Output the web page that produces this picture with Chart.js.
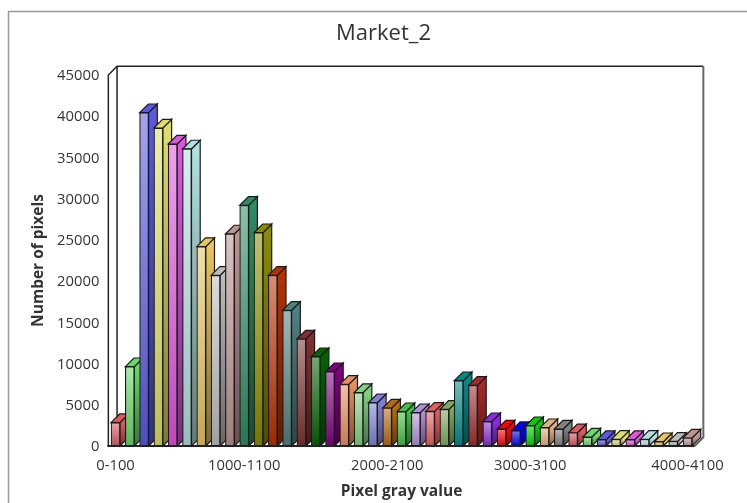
<!DOCTYPE html>
<html>
<head>
<meta charset="utf-8">
<title>Market_2</title>
<script src="https://cdn.jsdelivr.net/npm/chart.js@4/dist/chart.umd.js"></script>
<style>
  html, body { margin: 0; padding: 0; background: #fff; overflow: hidden; }
  canvas { display: block; }
</style>
</head>
<body>
<canvas id="myChart" width="747" height="503"></canvas>
<script>
// only a few of the 41 bins carry a label on the axis
const categories = [
  "0-100", "", "", "", "", "", "", "", "", "1000-1100",
  "", "", "", "", "", "", "", "", "", "2000-2100",
  "", "", "", "", "", "", "", "", "", "3000-3100",
  "", "", "", "", "", "", "", "", "", "", "4000-4100"
];

const pixelCounts = [
  2830, 9620, 40430, 38570, 36630, 36030, 24180, 20700, 25720, 29200,
  25870, 20700, 16460, 12980, 10830, 9010, 7480, 6470, 5250, 4610,
  4160, 4040, 4200, 4450, 7920, 7360, 2950, 2060, 1860, 2460,
  2220, 2060, 1610, 1090, 770, 810, 770, 810, 520, 570, 970
];

// repeats once the bins run past the end of the list
const palette = [
  "#dc5a5f", "#66d966", "#5a5ae0", "#dede66", "#e055e0", "#b0e0e0", "#e6c45e", "#bdbdbd",
  "#bd9494", "#2e8b63", "#8b8b00", "#b83000", "#4f8080", "#803030", "#006400", "#800080",
  "#e69060", "#80d080", "#8080d8", "#b86a10", "#40c040", "#b090d8", "#e06060", "#80a860",
  "#008b8b", "#a52a2a", "#8a2be2", "#ff0000", "#0000ff", "#00d000", "#e0b080", "#808080"
];

const chartTitle = "Market_2";

const DEPTH_X = 8.7;
const DEPTH_Y = 8.7;
const FONT = "'Open Sans', sans-serif";
const TEXT = "#333";

function mix(hex, target, amount) {
  const n = parseInt(hex.slice(1), 16);
  const parts = [n >> 16, (n >> 8) & 255, n & 255].map((c) => Math.round(c + (target - c) * amount));
  return `rgb(${parts.join(",")})`;
}

function colorOf(i) {
  return palette[i % palette.length];
}

function frontFill(ctx) {
  const chart = ctx.chart;
  const base = colorOf(ctx.dataIndex);
  if (!chart.scales.y) return base;
  const top = chart.scales.y.getPixelForValue(pixelCounts[ctx.dataIndex]);
  const bottom = chart.scales.y.getPixelForValue(0);
  if (!Number.isFinite(top) || !Number.isFinite(bottom)) return base;
  const grad = chart.ctx.createLinearGradient(0, top, 0, bottom);
  grad.addColorStop(0, mix(base, 255, 0.45));
  grad.addColorStop(1, mix(base, 0, 0.15));
  return grad;
}

// page frame, back wall and the side and top faces of every bar
const box3d = {
  id: "box3d",
  beforeDatasetsDraw(chart) {
    const c = chart.ctx;
    const { left, right, top, bottom } = chart.chartArea;

    c.save();
    c.strokeStyle = "#999";
    c.lineWidth = 1.5;
    c.beginPath();
    c.moveTo(8.5, 503);
    c.lineTo(8.5, 11.5);
    c.lineTo(747, 11.5);
    c.stroke();

    // the title sits off centre, so it is placed here and not by the title plugin
    c.fillStyle = TEXT;
    c.font = `22px ${FONT}`;
    c.textAlign = "center";
    c.textBaseline = "middle";
    c.fillText(chartTitle, 383.5, 34);

    c.lineWidth = 1.5;
    c.strokeStyle = "#222";
    c.beginPath();
    c.moveTo(left, bottom);
    c.lineTo(left, top);
    c.lineTo(left + DEPTH_X, top - DEPTH_Y);
    c.lineTo(right + DEPTH_X, top - DEPTH_Y);
    c.moveTo(left + DEPTH_X, top - DEPTH_Y);
    c.lineTo(left + DEPTH_X, bottom - DEPTH_Y);
    c.stroke();

    c.strokeStyle = "#666";
    c.lineWidth = 2;
    c.beginPath();
    c.moveTo(right + DEPTH_X, top - DEPTH_Y);
    c.lineTo(right + DEPTH_X, bottom - DEPTH_Y);
    c.lineTo(right, bottom);
    c.stroke();

    c.lineWidth = 1.2;
    c.strokeStyle = "#1a1a1a";
    chart.getDatasetMeta(0).data.forEach((bar, i) => {
      const x0 = bar.x - bar.width / 2;
      const x1 = bar.x + bar.width / 2;
      const base = colorOf(i);

      const side = c.createLinearGradient(0, bar.y, 0, bar.base);
      side.addColorStop(0, base);
      side.addColorStop(1, mix(base, 0, 0.45));
      c.fillStyle = side;
      c.beginPath();
      c.moveTo(x1, bar.base);
      c.lineTo(x1 + DEPTH_X, bar.base - DEPTH_Y);
      c.lineTo(x1 + DEPTH_X, bar.y - DEPTH_Y);
      c.lineTo(x1, bar.y);
      c.closePath();
      c.fill();
      c.stroke();

      c.fillStyle = base;
      c.beginPath();
      c.moveTo(x0, bar.y);
      c.lineTo(x0 + DEPTH_X, bar.y - DEPTH_Y);
      c.lineTo(x1 + DEPTH_X, bar.y - DEPTH_Y);
      c.lineTo(x1, bar.y);
      c.closePath();
      c.fill();
      c.stroke();
    });
    c.restore();
  },
  afterDatasetsDraw(chart) {
    const c = chart.ctx;
    const { left, right, bottom } = chart.chartArea;
    c.save();
    c.strokeStyle = "#222";
    c.lineWidth = 2;
    c.beginPath();
    c.moveTo(left - 1, bottom);
    c.lineTo(right, bottom);
    c.stroke();
    c.restore();
  }
};

new Chart(document.getElementById("myChart").getContext("2d"), {
  type: "bar",
  data: {
    labels: categories,
    datasets: [{
      label: "Number of pixels",
      data: pixelCounts,
      backgroundColor: frontFill,
      borderColor: "#1a1a1a",
      borderWidth: 1.2,
      borderSkipped: false,
      barThickness: 9
    }]
  },
  options: {
    responsive: false,
    animation: false,
    layout: { padding: { left: 0, right: 52.35, top: 75, bottom: 0 } },
    plugins: {
      legend: { display: false },
      tooltip: { enabled: false }
    },
    scales: {
      x: {
        grid: { display: false, drawTicks: false },
        border: { display: false },
        afterFit(scale) { scale.height = 57; },
        ticks: {
          autoSkip: false,
          maxRotation: 0,
          minRotation: 0,
          padding: 11,
          color: TEXT,
          font: { family: FONT, size: 14.8 }
        },
        title: {
          display: true,
          text: "Pixel gray value",
          color: TEXT,
          font: { family: FONT, size: 15.5, weight: "bold" },
          padding: { top: 0, bottom: 2 }
        }
      },
      y: {
        min: 0,
        max: 45000,
        grid: { display: false, drawTicks: false },
        border: { display: false },
        afterFit(scale) { scale.width = 108.35; },
        ticks: {
          stepSize: 5000,
          padding: 9,
          labelOffset: 1,
          color: TEXT,
          font: { family: FONT, size: 14.8 },
          callback: (value) => String(value)
        },
        title: {
          display: true,
          text: "Number of pixels",
          color: TEXT,
          font: { family: FONT, size: 15.5, weight: "bold" },
          padding: { top: 29.5, bottom: 0 }
        }
      }
    }
  },
  plugins: [box3d]
});
</script>
</body>
</html>
